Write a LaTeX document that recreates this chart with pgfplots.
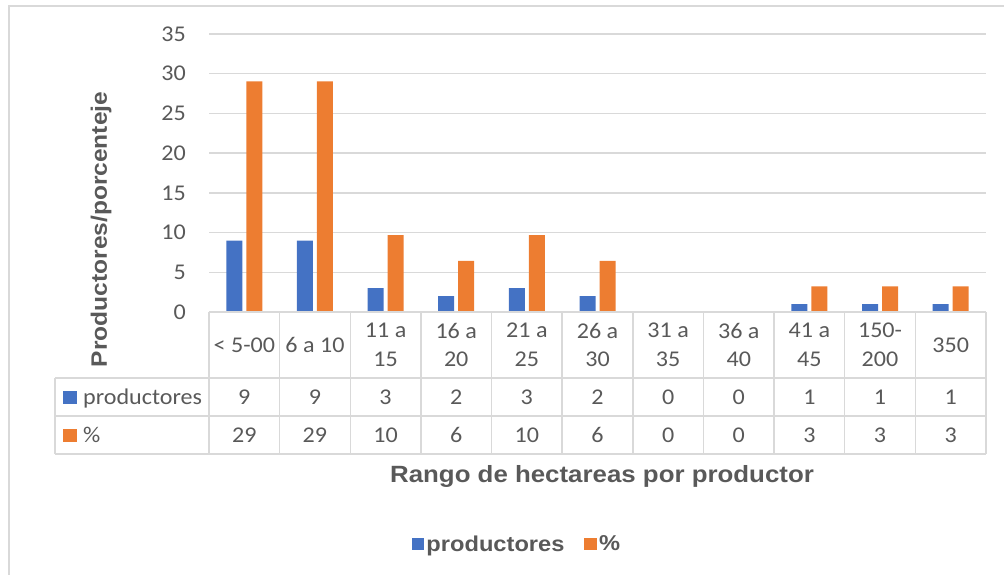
\documentclass[border=0pt]{standalone}
\usepackage{pgfplots}
\pgfplotsset{compat=1.18}
\usepackage{pgfplotstable}
\usepackage{fontspec}
\setmainfont{Carlito}[FakeStretch=1.07]
\newfontfamily\arialb{Liberation Sans}[FakeStretch=1.1]
\definecolor{barblue}{HTML}{4472C4}
\definecolor{barorange}{HTML}{ED7D31}
\definecolor{txt}{HTML}{595959}
\definecolor{gridc}{HTML}{D9D9D9}

% productores por rango, y su porcentaje (de 31)
\pgfplotstableread{
x prod pct
0 9 29.03
1 9 29.03
2 3 9.68
3 2 6.45
4 3 9.68
5 2 6.45
6 0 0
7 0 0
8 1 3.23
9 1 3.23
10 1 3.23
}\datos

\newcommand{\tfont}{\fontsize{22.5}{28.5}\selectfont}

\begin{document}
\begin{tikzpicture}
\path[use as bounding box] (0,0) rectangle (1004pt,-575pt);
\draw[gridc, line width=1.5pt] (9pt,-575pt) -- (9pt,-6pt) -- (1004pt,-6pt);
\begin{axis}[
    at={(209pt,-312pt)}, anchor=south west,
    scale only axis, width=777pt, height=278pt,
    ybar=4pt, bar width=16pt,
    xmin=-0.5, xmax=10.5, ymin=0, ymax=35,
    ytick={0,5,...,35},
    xtick={0,...,10},
    xticklabels={{< 5-00},{6 a 10},{11 a\\15},{16 a\\20},{21 a\\25},{26 a\\30},
                 {31 a\\35},{36 a\\40},{41 a\\45},{150-\\200},{350}},
    xticklabel style={align=center, anchor=center, yshift=-33pt, font=\tfont, text=txt},
    yticklabel style={font=\tfont, text=txt, inner sep=0pt, xshift=-23pt},
    /pgf/number format/assume math mode=true,
    major tick length=0pt, tick style={draw=none},
    axis line style={draw=none},
    ymajorgrids, grid style={gridc, line width=1.3pt},
    clip=false,
    ylabel={Productores/porcenteje},
    ylabel style={at={(axis description cs:-0.1313,0.2968)}, anchor=base,
                  font=\arialb\bfseries\fontsize{22.3}{26}\selectfont, text=txt},
    xlabel={Rango de hectareas por productor},
    xlabel style={at={(axis description cs:0.5058,-0.6115)}, anchor=base,
                  font=\arialb\bfseries\fontsize{23.5}{28}\selectfont, text=txt},
    legend columns=2,
    legend style={at={(0.3964,-0.8345)}, anchor=center, draw=none, fill=none,
                  font=\arialb\bfseries\fontsize{21.5}{26}\selectfont, text=txt,
                  /tikz/every even column/.append style={column sep=18pt}},
    legend image code/.code={\fill[#1] (0pt,-6.3pt) rectangle (12.7pt,6.3pt);},
]
\addplot[fill=barblue, draw=none] table[x=x,y=prod]{\datos};
\addplot[fill=barorange, draw=none] table[x=x,y=pct]{\datos};
\legend{productores, \%}
\end{axis}

% tabla de datos
\begin{scope}[gridc, line width=1.5pt]
\draw (209pt,-312pt) -- (986pt,-312pt);
\foreach \yy in {378,416,454}{\draw (55pt,-\yy pt) -- (986pt,-\yy pt);}
\foreach \i in {0,...,11}{\draw (209pt+\i*70.636pt,-312pt) -- (209pt+\i*70.636pt,-454pt);}
\draw (55pt,-378pt) -- (55pt,-454pt);
\end{scope}
\fill[barblue] (63pt,-391pt) rectangle (76.5pt,-404pt);
\fill[barorange] (63pt,-429pt) rectangle (76.5pt,-442pt);
\node[anchor=base west, inner sep=0pt, text=txt, font=\tfont] at (83pt,-404pt) {productores};
\node[anchor=base west, inner sep=0pt, text=txt, font=\tfont] at (83pt,-442pt) {\%};
\foreach \i in {0,...,10}{
  \pgfplotstablegetelem{\i}{prod}\of\datos
  \node[anchor=base, inner sep=0pt, text=txt, font=\tfont] at (244.3pt+\i*70.636pt,-404pt) {\pgfplotsretval};
  \pgfplotstablegetelem{\i}{pct}\of\datos
  \node[anchor=base, inner sep=0pt, text=txt, font=\tfont] at (244.3pt+\i*70.636pt,-442pt)
    {\pgfmathprintnumber[fixed,precision=0,assume math mode=true]{\pgfplotsretval}};
}
\end{tikzpicture}
\end{document}
